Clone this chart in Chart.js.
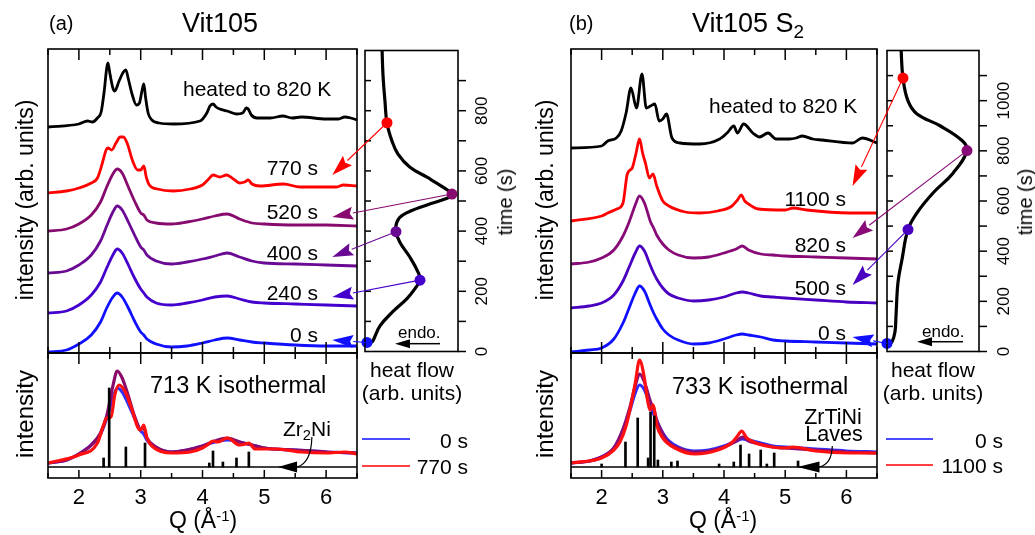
<!DOCTYPE html>
<html>
<head>
<meta charset="utf-8">
<script src="https://cdn.jsdelivr.net/npm/chart.js@4.4.1/dist/chart.umd.min.js"></script>
<style>
body { margin: 0; background: #fff; }
#wrap { position: relative; width: 1035px; height: 535px; overflow: hidden; font-family: "Liberation Sans", Arial, sans-serif; color: #000; }
canvas { position: absolute; }
.t { position: absolute; white-space: nowrap; line-height: 1; }
.sb { position: relative; top: .3em; font-size: .7em; }
.sp { position: relative; top: -.45em; font-size: .65em; }
.lg { position: absolute; height: 2px; }
</style>
</head>
<body>
<div id="wrap"></div>
<script>
// ---------- panel (a) Vit105, stacked patterns (offset in px units)
var qAmA = [1.5, 1.8, 2.0, 2.2, 2.35, 2.45, 2.55, 2.62, 2.7, 2.8, 2.9, 3.0, 3.05, 3.1, 3.25, 3.5, 3.75, 4.0, 4.2, 4.4, 4.6, 4.8, 5.0, 5.5, 6.0, 6.5];
var a0s = [1, 3, 9, 18, 31, 45, 56, 60, 56, 45, 32, 21, 18, 14, 9, 6, 7, 10, 13, 15, 13, 11, 10, 8, 7, 7];
var a240s = [40, 42, 48, 58, 71, 85, 98, 104, 100, 88, 75, 64, 60, 56, 50, 48, 50, 53, 56, 57, 54, 51, 50, 49, 48, 47];
var a400s = [80, 82, 88, 98, 112, 127, 141, 147, 143, 131, 118, 106, 103, 98, 92, 89, 91, 94, 97, 100, 96, 92, 90, 89, 88, 87];
var a520s = [122, 124, 129, 138, 151, 166, 179, 184, 180, 166, 152, 140, 138, 133, 130, 129, 131, 134, 137, 139, 134, 130, 129, 128, 128, 127];
var q770A = [1.5, 1.8, 2.0, 2.2, 2.3, 2.38, 2.44, 2.47, 2.53, 2.6, 2.67, 2.72, 2.78, 2.87, 2.95, 3.0, 3.05, 3.09, 3.14, 3.27, 3.53, 3.8, 4.0, 4.1, 4.17, 4.28, 4.39, 4.5, 4.6, 4.68, 4.74, 4.8, 4.93, 5.31, 5.58, 5.9, 6.17, 6.28, 6.5];
var a770s = [160, 162, 165, 170, 175, 190, 203, 205, 203, 210, 216, 216, 210, 192, 183, 183, 187, 176, 168, 164, 162, 164, 168, 174, 178, 176, 178, 174, 170, 171, 173, 169, 167, 169, 166, 166, 166, 168, 167];
var qHeatA = [1.5, 2.0, 2.14, 2.22, 2.3, 2.36, 2.41, 2.45, 2.47, 2.5, 2.55, 2.58, 2.65, 2.72, 2.76, 2.8, 2.86, 2.93, 2.98, 3.02, 3.05, 3.08, 3.12, 3.18, 3.3, 3.53, 3.96, 4.07, 4.12, 4.17, 4.22, 4.28, 4.4, 4.55, 4.65, 4.71, 4.74, 4.79, 4.88, 5.1, 5.3, 5.45, 5.6, 6.0, 6.2, 6.3, 6.4, 6.5];
var aHeat = [226, 229, 232, 231, 235, 241, 262, 285, 290, 280, 265, 262, 272, 281, 283, 274, 259, 248, 250, 262, 269, 255, 240, 233, 230, 229, 232, 240, 247, 249, 246, 244, 242, 239, 240, 245, 244, 238, 235, 235, 237, 235, 236, 234, 234, 236, 235, 233];

// ---------- panel (b) Vit105 S2
var qAmB = [1.5, 1.8, 2.0, 2.2, 2.35, 2.45, 2.55, 2.62, 2.7, 2.8, 2.85, 2.9, 3.0, 3.1, 3.25, 3.5, 3.75, 4.0, 4.2, 4.3, 4.4, 4.6, 4.8, 5.0, 5.5, 6.0, 6.5];
var b0s = [1, 3, 5, 14, 30, 45, 60, 67, 62, 47, 40, 34, 24, 18, 13, 9, 10, 14, 18, 19, 18, 16, 13, 12, 11, 10, 9];
var b500s = [45, 47, 50, 58, 72, 86, 100, 107, 102, 87, 80, 74, 65, 59, 55, 52, 53, 56, 60, 61, 60, 57, 56, 55, 53, 51, 50];
var b820s = [89, 91, 95, 103, 117, 131, 148, 157, 150, 131, 125, 118, 109, 103, 98, 95, 96, 100, 104, 107, 103, 99, 98, 97, 96, 95, 94];
var q1100B = [1.5, 2.0, 2.1, 2.25, 2.35, 2.42, 2.5, 2.56, 2.62, 2.67, 2.72, 2.78, 2.84, 2.9, 3.0, 3.1, 3.37, 3.6, 3.9, 4.13, 4.22, 4.28, 4.34, 4.4, 4.56, 5.0, 5.13, 5.35, 6.05, 6.5];
var b1100s = [132, 137, 140, 144, 150, 179, 185, 199, 214, 200, 189, 175, 179, 167, 152, 147, 141, 140, 142, 147, 153, 158, 152, 149, 144, 143, 145, 143, 140, 140];
var qHeatB = [1.5, 2.0, 2.1, 2.24, 2.32, 2.4, 2.48, 2.57, 2.66, 2.73, 2.8, 2.87, 2.94, 3.0, 3.06, 3.15, 3.28, 3.6, 3.93, 4.05, 4.16, 4.22, 4.32, 4.47, 4.58, 4.72, 4.85, 5.07, 5.18, 5.28, 5.45, 5.6, 6.1, 6.26, 6.5];
var bHeat = [205, 207, 212, 215, 222, 240, 265, 245, 279, 245, 247, 249, 232, 234, 239, 215, 210, 209, 214, 220, 227, 220, 229, 220, 216, 220, 214, 214, 215, 217, 214, 213, 210, 215, 210];

// ---------- isothermal comparison (bottom plots)
var botA0 = [15, 18, 24, 33, 44, 60, 80, 90, 86, 74, 60, 47, 44, 38, 30, 26, 28, 32, 36, 38, 36, 33, 30, 28, 26, 25];
var botA520 = [15, 18, 24, 33, 45, 62, 92, 107, 100, 82, 62, 49, 50, 40, 31, 26, 28, 32, 37, 40, 36, 33, 30, 28, 26, 25];
var qBotA770 = [1.5, 2.0, 2.3, 2.4, 2.45, 2.52, 2.58, 2.65, 2.75, 2.85, 2.95, 3.0, 3.05, 3.1, 3.2, 3.5, 3.8, 4.0, 4.1, 4.17, 4.25, 4.4, 4.6, 4.7, 4.75, 4.85, 5.2, 5.6, 6.0, 6.3, 6.5];
var botA770 = [15, 23, 35, 53, 60, 61, 83, 93, 86, 70, 51, 48, 53, 40, 31, 25, 26, 30, 34, 37, 36, 40, 33, 34, 35, 29, 29, 26, 25, 26, 24];
var botB0 = [15, 17, 21, 30, 48, 65, 85, 93, 88, 72, 64, 57, 45, 37, 31, 27, 28, 32, 37, 39, 38, 35, 32, 31, 29, 27, 26];
var botB820 = [15, 17, 21, 30, 49, 68, 92, 104, 96, 76, 70, 58, 44, 35, 30, 26, 27, 31, 37, 41, 37, 34, 31, 30, 28, 26, 25];
var qBotB1100 = [1.5, 2.0, 2.2, 2.3, 2.4, 2.47, 2.55, 2.62, 2.69, 2.75, 2.79, 2.84, 2.9, 3.0, 3.2, 3.53, 3.9, 4.12, 4.22, 4.29, 4.36, 4.45, 4.56, 5.0, 5.13, 5.5, 6.05, 6.5];
var botB1100 = [15, 20, 28, 36, 52, 70, 95, 118, 103, 78, 68, 73, 53, 40, 30, 24, 28, 35, 42, 47, 41, 37, 34, 30, 31, 27, 25, 25];

// reference peaks (sticks)
var stickBase = 11;
var stickQA = [2.40, 2.49, 2.76, 3.07, 4.11, 4.17, 4.33, 4.55, 4.75];
var stickHA = [9, 79, 20, 24, 4, 16, 5, 9, 15];
var stickQB = [2.0, 2.39, 2.59, 2.76, 2.80, 2.86, 2.92, 3.14, 3.24, 3.92, 4.16, 4.27, 4.41, 4.6, 4.7, 4.82, 5.21];
var stickHB = [3, 25, 49, 9, 55, 51, 7, 5, 6, 3, 5, 22, 13, 17, 3, 14, 6];

// ---------- heat flow vs time
var hfTimeA = [30, 36, 85, 133, 176, 209, 238, 264, 313, 362, 398, 431, 454, 487, 509, 522, 546, 579, 612, 656, 699, 758, 830, 918, 1010];
var hfValA = [6, 8, 15, 28, 42, 50, 55, 53, 45, 35, 31, 32, 38, 62, 82, 87, 78, 62, 45, 33, 27, 22, 20, 18, 17];
var dotTimeA = [30, 237, 398, 523, 760];
var dotValA = [2, 55, 31, 87, 22];
var tipA = [13, 56, 96, 136, 178];
var timeLblA = ['0 s', '240 s', '400 s', '520 s', '770 s'];

var hfTimeB = [32, 39, 79, 142, 276, 367, 486, 553, 632, 711, 801, 841, 900, 947, 999, 1090, 1210];
var hfValB = [2, 5, 8, 9, 11, 15, 21, 30, 46, 66, 80, 75, 53, 30, 21, 16, 14];
var dotTimeB = [32, 486, 801, 1090];
var dotValB = [0, 21, 80, 16];
var tipB = [16, 68, 115, 167];
var timeLblB = ['0 s', '500 s', '820 s', '1100 s'];

var qTicks = [1.5, 2, 2.5, 3, 3.5, 4, 4.5, 5, 5.5, 6, 6.5];
var qLabels = [2, 3, 4, 5, 6];
var tTicksA = [100, 200, 300, 400, 500, 600, 700, 800, 900];
var tTicksB = [100, 200, 300, 400, 500, 600, 700, 800, 900, 1000, 1100];
var tLabelsA = [0, 200, 400, 600, 800];
var tLabelsB = [0, 200, 400, 600, 800, 1000];

var colA = ['#1010ff', '#4400cc', '#6a0a94', '#870a6e', '#ff0000'];
var colB = ['#1010ff', '#4a00c0', '#870a76', '#ff0000'];

var FONT = '"Liberation Sans", Arial, sans-serif';
Chart.defaults.font.family = FONT;
Chart.defaults.plugins.legend.display = false;
Chart.defaults.plugins.tooltip.enabled = false;

var wrap = document.getElementById('wrap');

function head(ctx, bx, by, tx, ty, w, notch) {
    var dx = tx - bx, dy = ty - by, L = Math.hypot(dx, dy), ux = dx / L, uy = dy / L;
    var nx = -uy, ny = ux, k = notch || 0;
    ctx.beginPath();
    ctx.moveTo(tx, ty);
    ctx.lineTo(bx + nx * w, by + ny * w);
    ctx.lineTo(bx + ux * L * k, by + uy * L * k);
    ctx.lineTo(bx - nx * w, by - ny * w);
    ctx.closePath();
    ctx.fill();
}

// frame, inward/outward ticks, tick labels, small annotation arrows
var deco = {
    id: 'deco',
    afterDraw: function (chart, args, o) {
        var ctx = chart.ctx, a = chart.chartArea, sx = chart.scales.x, sy = chart.scales.y;
        ctx.save();
        ctx.strokeStyle = '#000';
        ctx.fillStyle = '#000';
        ctx.lineWidth = 1.6;
        ctx.strokeRect(a.left, a.top, a.right - a.left, a.bottom - a.top);
        ctx.lineWidth = 1.5;
        (o.ticks || []).forEach(function (t) {
            t.vals.forEach(function (v) {
                var len = (t.big && Number.isInteger(v)) ? t.big : t.len;
                ctx.beginPath();
                if (t.edge === 'top' || t.edge === 'bottom') {
                    var px = sx.getPixelForValue(v);
                    var y0 = t.edge === 'top' ? a.top : a.bottom;
                    var d = (t.edge === 'top' ? 1 : -1) * (t.out ? -1 : 1);
                    ctx.moveTo(px, y0); ctx.lineTo(px, y0 + d * len);
                } else {
                    var py = sy.getPixelForValue(v);
                    var x0 = t.edge === 'left' ? a.left : a.right;
                    var d2 = (t.edge === 'left' ? 1 : -1) * (t.out ? -1 : 1);
                    ctx.moveTo(x0, py); ctx.lineTo(x0 + d2 * len, py);
                }
                ctx.stroke();
            });
        });
        if (o.xLabels) {
            ctx.font = o.xLabels.size + 'px ' + FONT;
            ctx.textAlign = 'center';
            ctx.textBaseline = 'middle';
            o.xLabels.vals.forEach(function (v) {
                ctx.fillText(String(v), sx.getPixelForValue(v), a.bottom + o.xLabels.dy);
            });
        }
        if (o.yLabels) {
            ctx.font = o.yLabels.size + 'px ' + FONT;
            ctx.textAlign = 'center';
            ctx.textBaseline = 'middle';
            o.yLabels.vals.forEach(function (v) {
                ctx.save();
                ctx.translate(a.right + o.yLabels.dx, sy.getPixelForValue(v));
                ctx.rotate(-Math.PI / 2);
                ctx.fillText(String(v), 0, 0);
                ctx.restore();
            });
        }
        (o.arrows || []).forEach(function (ar) {
            var p = ar.path.map(function (q) { return [sx.getPixelForValue(q[0]), sy.getPixelForValue(q[1])]; });
            var tip = [sx.getPixelForValue(ar.tip[0]), sy.getPixelForValue(ar.tip[1])];
            ctx.strokeStyle = ar.color || '#000';
            ctx.fillStyle = ar.color || '#000';
            ctx.lineWidth = ar.lw || 1.2;
            ctx.beginPath();
            ctx.moveTo(p[0][0], p[0][1]);
            if (p.length === 3) ctx.quadraticCurveTo(p[1][0], p[1][1], p[2][0], p[2][1]);
            else ctx.lineTo(p[1][0], p[1][1]);
            ctx.stroke();
            var last = p[p.length - 1];
            head(ctx, last[0], last[1], tip[0], tip[1], ar.w, 0);
        });
        ctx.restore();
    }
};
Chart.register(deco);

function mk(area, pad, cfg) {
    var c = document.createElement('canvas');
    var w = area.r - area.l + pad.l + pad.r, h = area.b - area.t + pad.t + pad.b;
    c.width = w; c.height = h;
    c.style.left = (area.l - pad.l) + 'px';
    c.style.top = (area.t - pad.t) + 'px';
    c.style.width = w + 'px';
    c.style.height = h + 'px';
    wrap.appendChild(c);
    cfg.options.responsive = false;
    cfg.options.animation = false;
    cfg.options.layout = { padding: { left: pad.l, right: pad.r, top: pad.t, bottom: pad.b } };
    var ch = new Chart(c, cfg);
    ch.$pos = { left: area.l - pad.l, top: area.t - pad.t };
    return ch;
}

function pts(qs, ys) {
    return qs.map(function (q, i) { return { x: q, y: ys[i] }; });
}
function curve(qs, ys, color, w, order) {
    return { type: 'line', data: pts(qs, ys), borderColor: color, borderWidth: w, pointRadius: 0, cubicInterpolationMode: 'monotone', fill: false, order: order };
}
function sticks(qs, hs) {
    return {
        type: 'bar',
        data: qs.map(function (q, i) { return { x: q, y: [stickBase, stickBase + hs[i]] }; }),
        backgroundColor: '#000', barThickness: 2, borderWidth: 0, order: -2
    };
}
function baseLine() {
    return { type: 'line', data: [{ x: 1.5, y: stickBase }, { x: 6.5, y: stickBase }], borderColor: '#000', borderWidth: 1.5, pointRadius: 0, order: -1 };
}
function xyScales(xmin, xmax, ymin, ymax) {
    return {
        x: { type: 'linear', min: xmin, max: xmax, display: false, offset: false },
        y: { type: 'linear', min: ymin, max: ymax, display: false, beginAtZero: false }
    };
}

// ---------- panel (a)
var mainA = mk({ l: 48, t: 49, r: 357, b: 353 }, { l: 4, t: 4, r: 4, b: 4 }, {
    type: 'line',
    data: {
        datasets: [
            curve(qAmA, a0s, colA[0], 2.8, 5),
            curve(qAmA, a240s, colA[1], 2.8, 4),
            curve(qAmA, a400s, colA[2], 2.8, 3),
            curve(qAmA, a520s, colA[3], 2.8, 2),
            curve(q770A, a770s, colA[4], 2.8, 1),
            curve(qHeatA, aHeat, '#000', 2.8, 0)
        ]
    },
    options: {
        scales: xyScales(1.5, 6.5, 0, 304),
        plugins: {
            deco: {
                ticks: [
                    { edge: 'top', vals: qTicks, big: 11, len: 6 },
                    { edge: 'bottom', vals: qTicks, big: 11, len: 6 }
                ]
            }
        }
    }
});

var botA = mk({ l: 48, t: 353, r: 357, b: 478 }, { l: 4, t: 4, r: 4, b: 34 }, {
    type: 'line',
    data: {
        datasets: [
            curve(qAmA, botA0, '#3030ff', 3.2, 3),
            curve(qAmA, botA520, '#8a0a6a', 3.2, 2),
            curve(qBotA770, botA770, '#ff1010', 3.2, 1),
            sticks(stickQA, stickHA),
            baseLine()
        ]
    },
    options: {
        scales: xyScales(1.5, 6.5, 0, 125),
        plugins: {
            deco: {
                ticks: [
                    { edge: 'top', vals: qTicks, big: 11, len: 6 },
                    { edge: 'bottom', vals: qTicks, big: 8, len: 5 }
                ],
                xLabels: { vals: qLabels, dy: 20, size: 22 },
                arrows: [{ path: [[5.77, 41], [5.76, 15], [5.53, stickBase]], tip: [5.22, stickBase], w: 5.5, lw: 1.2 }]
            }
        }
    }
});

var heatA = mk({ l: 365, t: 49, r: 458, b: 353 }, { l: 8, t: 4, r: 40, b: 4 }, {
    type: 'line',
    data: {
        datasets: [
            { type: 'line', data: pts(hfValA, hfTimeA), borderColor: '#000', borderWidth: 3.2, pointRadius: 0, tension: 0.4, order: 1 },
            {
                type: 'line', data: pts(dotValA, dotTimeA), showLine: false, pointRadius: 5.5,
                pointBackgroundColor: colA, pointBorderWidth: 0, clip: false, order: 0
            }
        ]
    },
    options: {
        scales: xyScales(0, 93, 0, 1000),
        plugins: {
            deco: {
                ticks: [
                    { edge: 'left', vals: tTicksA, len: 6 },
                    { edge: 'right', vals: [0].concat(tTicksA), len: 8, out: true }
                ],
                yLabels: { vals: tLabelsA, dx: 24, size: 17 },
                arrows: [{ path: [[75, 26], [45, 26]], tip: [30, 26], w: 4.5, lw: 1.5 }]
            }
        }
    }
});

// ---------- panel (b)
var mainB = mk({ l: 571, t: 49, r: 877, b: 353 }, { l: 4, t: 4, r: 4, b: 4 }, {
    type: 'line',
    data: {
        datasets: [
            curve(qAmB, b0s, colB[0], 2.8, 4),
            curve(qAmB, b500s, colB[1], 2.8, 3),
            curve(qAmB, b820s, colB[2], 2.8, 2),
            curve(q1100B, b1100s, colB[3], 2.8, 1),
            curve(qHeatB, bHeat, '#000', 2.8, 0)
        ]
    },
    options: {
        scales: xyScales(1.5, 6.5, 0, 304),
        plugins: {
            deco: {
                ticks: [
                    { edge: 'top', vals: qTicks, big: 11, len: 6 },
                    { edge: 'bottom', vals: qTicks, big: 11, len: 6 }
                ]
            }
        }
    }
});

var botB = mk({ l: 571, t: 353, r: 877, b: 478 }, { l: 4, t: 4, r: 4, b: 34 }, {
    type: 'line',
    data: {
        datasets: [
            curve(qAmB, botB0, '#3030ff', 3.2, 3),
            curve(qAmB, botB820, '#8a0a76', 3.2, 2),
            curve(qBotB1100, botB1100, '#ff1010', 3.2, 1),
            sticks(stickQB, stickHB),
            baseLine()
        ]
    },
    options: {
        scales: xyScales(1.5, 6.5, 0, 125),
        plugins: {
            deco: {
                ticks: [
                    { edge: 'top', vals: qTicks, big: 11, len: 6 },
                    { edge: 'bottom', vals: qTicks, big: 8, len: 5 }
                ],
                xLabels: { vals: qLabels, dy: 20, size: 22 },
                arrows: [{ path: [[5.77, 32], [5.76, 14], [5.56, stickBase]], tip: [5.2, stickBase], w: 5.5, lw: 1.2 }]
            }
        }
    }
});

var heatB = mk({ l: 887, t: 49, r: 979, b: 353 }, { l: 8, t: 4, r: 40, b: 4 }, {
    type: 'line',
    data: {
        datasets: [
            { type: 'line', data: pts(hfValB, hfTimeB), borderColor: '#000', borderWidth: 3.2, pointRadius: 0, tension: 0.4, order: 1 },
            {
                type: 'line', data: pts(dotValB, dotTimeB), showLine: false, pointRadius: 5.5,
                pointBackgroundColor: colB, pointBorderWidth: 0, clip: false, order: 0
            }
        ]
    },
    options: {
        scales: xyScales(0, 92, 0, 1200),
        plugins: {
            deco: {
                ticks: [
                    { edge: 'left', vals: tTicksB, len: 6 },
                    { edge: 'right', vals: [0].concat(tTicksB), len: 8, out: true }
                ],
                yLabels: { vals: tLabelsB, dx: 25, size: 17 },
                arrows: [{ path: [[76, 39], [45, 39]], tip: [30, 39], w: 4.5, lw: 1.5 }]
            }
        }
    }
});

// ---------- links from heat-flow points to the patterns
var ov = document.createElement('canvas');
ov.width = 1035; ov.height = 535;
ov.style.left = '0px'; ov.style.top = '0px';
wrap.appendChild(ov);
var octx = ov.getContext('2d');
var TIP_Q = 6.1;
function links(mainChart, heatChart, dv, dt, tips, cols) {
    dv.forEach(function (v, i) {
        var x0 = heatChart.$pos.left + heatChart.scales.x.getPixelForValue(v);
        var y0 = heatChart.$pos.top + heatChart.scales.y.getPixelForValue(dt[i]);
        var x1 = mainChart.$pos.left + mainChart.scales.x.getPixelForValue(TIP_Q);
        var y1 = mainChart.$pos.top + mainChart.scales.y.getPixelForValue(tips[i]);
        var L = Math.hypot(x1 - x0, y1 - y0), ux = (x1 - x0) / L, uy = (y1 - y0) / L;
        var bx = x1 - ux * 21, by = y1 - uy * 21;
        octx.strokeStyle = cols[i];
        octx.fillStyle = cols[i];
        octx.lineWidth = 1.1;
        octx.beginPath();
        octx.moveTo(x0, y0);
        octx.lineTo(bx, by);
        octx.stroke();
        head(octx, bx, by, x1, y1, 6.5, 0.15);
    });
}
links(mainA, heatA, dotValA, dotTimeA, tipA, colA);
links(mainB, heatB, dotValB, dotTimeB, tipB, colB);

// ---------- text
function T(html, x, y, size, anchor, rot) {
    var d = document.createElement('div');
    d.className = 't';
    d.innerHTML = html;
    d.style.left = x + 'px';
    d.style.top = y + 'px';
    d.style.fontSize = size + 'px';
    var tx = anchor === 'l' ? '0' : anchor === 'r' ? '-100%' : '-50%';
    d.style.transform = 'translate(' + tx + ',-50%)' + (rot ? ' rotate(' + rot + 'deg)' : '');
    wrap.appendChild(d);
}
function legendLine(x, y, w, color) {
    var d = document.createElement('div');
    d.className = 'lg';
    d.style.left = x + 'px'; d.style.top = (y - 1) + 'px'; d.style.width = w + 'px';
    d.style.background = color;
    wrap.appendChild(d);
}

T('(a)', 49, 23, 20, 'l');
T('Vit105', 220, 23, 27);
T('(b)', 569, 23, 20, 'l');
T('Vit105 S<span class="sb">2</span>', 748, 23, 27);

T('intensity (arb. units)', 25, 200, 23, 'c', -90);
T('intensity', 25, 414, 24, 'c', -90);
T('intensity (arb. units)', 545, 200, 23, 'c', -90);
T('intensity', 545, 414, 24, 'c', -90);
T('Q (Å<span class="sp">-1</span>)', 203, 520, 23);
T('Q (Å<span class="sp">-1</span>)', 723, 520, 23);

T('heated to 820 K', 183, 88, 21, 'l');
T('heated to 820 K', 709, 105, 21, 'l');
var lblYA = [334, 292, 252, 211, 167];
timeLblA.forEach(function (s, i) { T(s, 318, lblYA[i], 21, 'r'); });
var lblYB = [332, 287, 244, 198];
timeLblB.forEach(function (s, i) { T(s, 846, lblYB[i], 21, 'r'); });

T('713 K isothermal', 150, 386, 23.5, 'l');
T('733 K isothermal', 672, 387, 23.5, 'l');
T('Zr<span class="sb">2</span>Ni', 283, 428, 21, 'l');
T('ZrTiNi', 833, 418, 21.5);
T('Laves', 834, 435, 21.5);

T('heat flow', 412, 369, 21);
T('(arb. units)', 412, 392, 21);
T('heat flow', 933, 369, 21);
T('(arb. units)', 933, 392, 21);
T('time (s)', 505, 202, 20, 'c', -90);
T('time (s)', 1025, 202, 20, 'c', -90);
T('endo.', 398, 332, 17, 'l');
T('endo.', 922, 331, 17, 'l');

legendLine(362, 439, 48, '#4a4aff');
legendLine(362, 466, 48, '#ff4040');
T('0 s', 468, 440, 21, 'r');
T('770 s', 468, 466, 21, 'r');
legendLine(886, 439, 47, '#4a4aff');
legendLine(886, 465, 47, '#ff4040');
T('0 s', 1003, 440, 21, 'r');
T('1100 s', 1003, 465, 21, 'r');
</script>
</body>
</html>
